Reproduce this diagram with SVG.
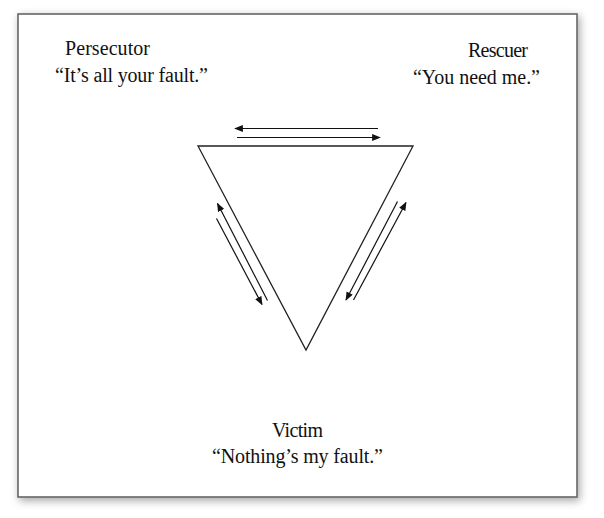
<svg xmlns="http://www.w3.org/2000/svg" width="604" height="518" viewBox="0 0 604 518">
<defs>
<filter id="sh" x="-10%" y="-10%" width="120%" height="120%">
<feDropShadow dx="2" dy="3" stdDeviation="4" flood-color="#000" flood-opacity="0.35"/>
</filter>
<marker id="ah" viewBox="0 0 10 8" refX="9" refY="4" markerWidth="9" markerHeight="7" markerUnits="userSpaceOnUse" orient="auto">
<path d="M0,0 L10,4 L0,8 Z" fill="#111"/>
</marker>
<style>
.lbl{font-family:"Liberation Serif","DejaVu Serif",serif;font-size:20px;fill:#111}
.arr{stroke:#111;stroke-width:1.2;fill:none;marker-end:url(#ah)}
</style>
</defs>
<rect width="604" height="518" fill="#fff"/>
<rect id="frame" x="18" y="14" width="559" height="483" fill="#fff" stroke="#666" stroke-width="1.6" filter="url(#sh)"/>
<g id="triangle">
<polygon points="198,146 413,146 306,350" fill="none" stroke="#222" stroke-width="1.3"/>
</g>
<g id="connectors">
<line class="arr" x1="378" y1="128.5" x2="235" y2="128.5"/>
<line class="arr" x1="237" y1="137.5" x2="380" y2="137.5"/>
<line class="arr" x1="267.5" y1="300.5" x2="217.5" y2="203.5"/>
<line class="arr" x1="216.5" y1="218.5" x2="262" y2="304.5"/>
<line class="arr" x1="397.5" y1="201.5" x2="346" y2="300"/>
<line class="arr" x1="353.5" y1="300" x2="406" y2="202.5"/>
</g>
<g id="persecutor">
<text class="lbl" x="65" y="55" textLength="85">Persecutor</text>
<text class="lbl" x="55" y="82" textLength="153">“It’s all your fault.”</text>
</g>
<g id="rescuer">
<text class="lbl" x="468" y="56.5" textLength="60">Rescuer</text>
<text class="lbl" x="413" y="84" textLength="127">“You need me.”</text>
</g>
<g id="victim">
<text class="lbl" x="272" y="437" textLength="51">Victim</text>
<text class="lbl" x="212" y="463" textLength="171">“Nothing’s my fault.”</text>
</g>
</svg>
